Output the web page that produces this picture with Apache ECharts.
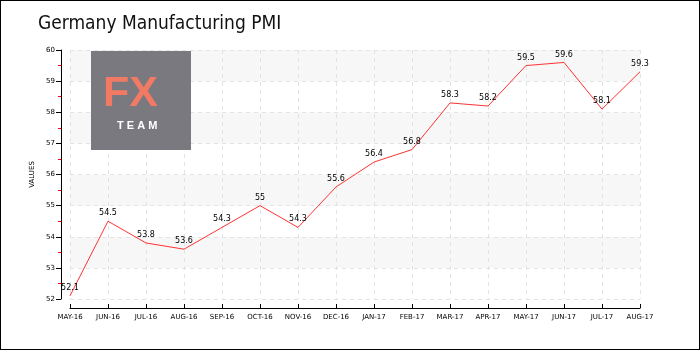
<!DOCTYPE html>
<html>
<head>
<meta charset="utf-8">
<script src="https://cdn.jsdelivr.net/npm/echarts@6/dist/echarts.min.js"></script>
<style>
  html, body { margin: 0; padding: 0; background: #fff; }
  #chart { width: 700px; height: 350px; box-sizing: border-box; border: 1px solid #000; }
</style>
</head>
<body>
<div id="chart"></div>
<script>
// Monthly PMI readings
const months = ['MAY-16','JUN-16','JUL-16','AUG-16','SEP-16','OCT-16','NOV-16','DEC-16',
                'JAN-17','FEB-17','MAR-17','APR-17','MAY-17','JUN-17','JUL-17','AUG-17'];
const pmiValues = [52.1, 54.5, 53.8, 53.6, 54.3, 55, 54.3, 55.6,
                   56.4, 56.8, 58.3, 58.2, 59.5, 59.6, 58.1, 59.3];
const yTicks = [52, 53, 54, 55, 56, 57, 58, 59, 60];

const chart = echarts.init(document.getElementById('chart'), null, { renderer: 'canvas' });
const small = { fontFamily: 'DejaVu Sans', fontSize: 7, color: '#000' };

chart.setOption({
  backgroundColor: '#fff',
  animation: false,
  title: {
    text: 'Germany Manufacturing PMI',
    left: 32, top: 9,
    textStyle: { fontFamily: '"DejaVu Sans Condensed", Lato, sans-serif', fontSize: 19, fontWeight: 'normal', color: '#111' }
  },
  grid: { left: 69, right: 59, top: 49, bottom: 50 },
  xAxis: {
    type: 'category',
    data: months,
    boundaryGap: false,
    offset: 9,
    axisLine: { lineStyle: { color: '#000', width: 1 } },
    axisTick: { inside: true, length: 4, lineStyle: { color: '#000' } },
    axisLabel: Object.assign({ margin: 6, interval: 0 }, small),
    splitLine: { show: true, lineStyle: { color: '#e3e3e3', type: [4, 4] } }
  },
  yAxis: {
    type: 'value',
    min: yTicks[0], max: yTicks[yTicks.length - 1], interval: 1,
    offset: 9,
    name: 'VALUES',
    nameLocation: 'middle',
    nameGap: 17,
    nameTextStyle: small,
    axisLine: { show: true, lineStyle: { color: '#000', width: 1 } },
    axisTick: { show: true, length: 5, lineStyle: { color: '#000' } },
    minorTick: { show: true, splitNumber: 2, length: 3, lineStyle: { color: '#ff0000' } },
    axisLabel: Object.assign({ margin: 6 }, small),
    splitLine: { show: true, lineStyle: { color: '#e3e3e3', type: [4, 4] } },
    splitArea: { show: true, areaStyle: { color: ['#ffffff', '#f7f7f7'] } }
  },
  graphic: [
    { type: 'rect', left: 90, top: 50, shape: { width: 100, height: 99 }, style: { fill: '#7a7980' }, z: 1 },
    { type: 'text', left: 102, top: 72, style: { text: 'FX', fill: '#f07a63', font: 'bold 43px "Liberation Sans"' }, z: 2 },
    { type: 'text', left: 116, top: 119, style: { text: 'T E A M', fill: '#ffffff', font: 'bold 11px "Liberation Sans"' }, z: 2 }
  ],
  series: [{
    type: 'line',
    data: pmiValues,
    symbol: 'circle',
    symbolSize: 2,
    showSymbol: true,
    itemStyle: { color: 'rgba(0,0,0,0)', borderWidth: 0 },
    z: 5,
    lineStyle: { color: '#ff3333', width: 1 },
    label: {
      show: true,
      position: 'top',
      distance: 3,
      fontFamily: 'DejaVu Sans',
      fontSize: 8,
      color: '#000'
    }
  }]
});
</script>
</body>
</html>
